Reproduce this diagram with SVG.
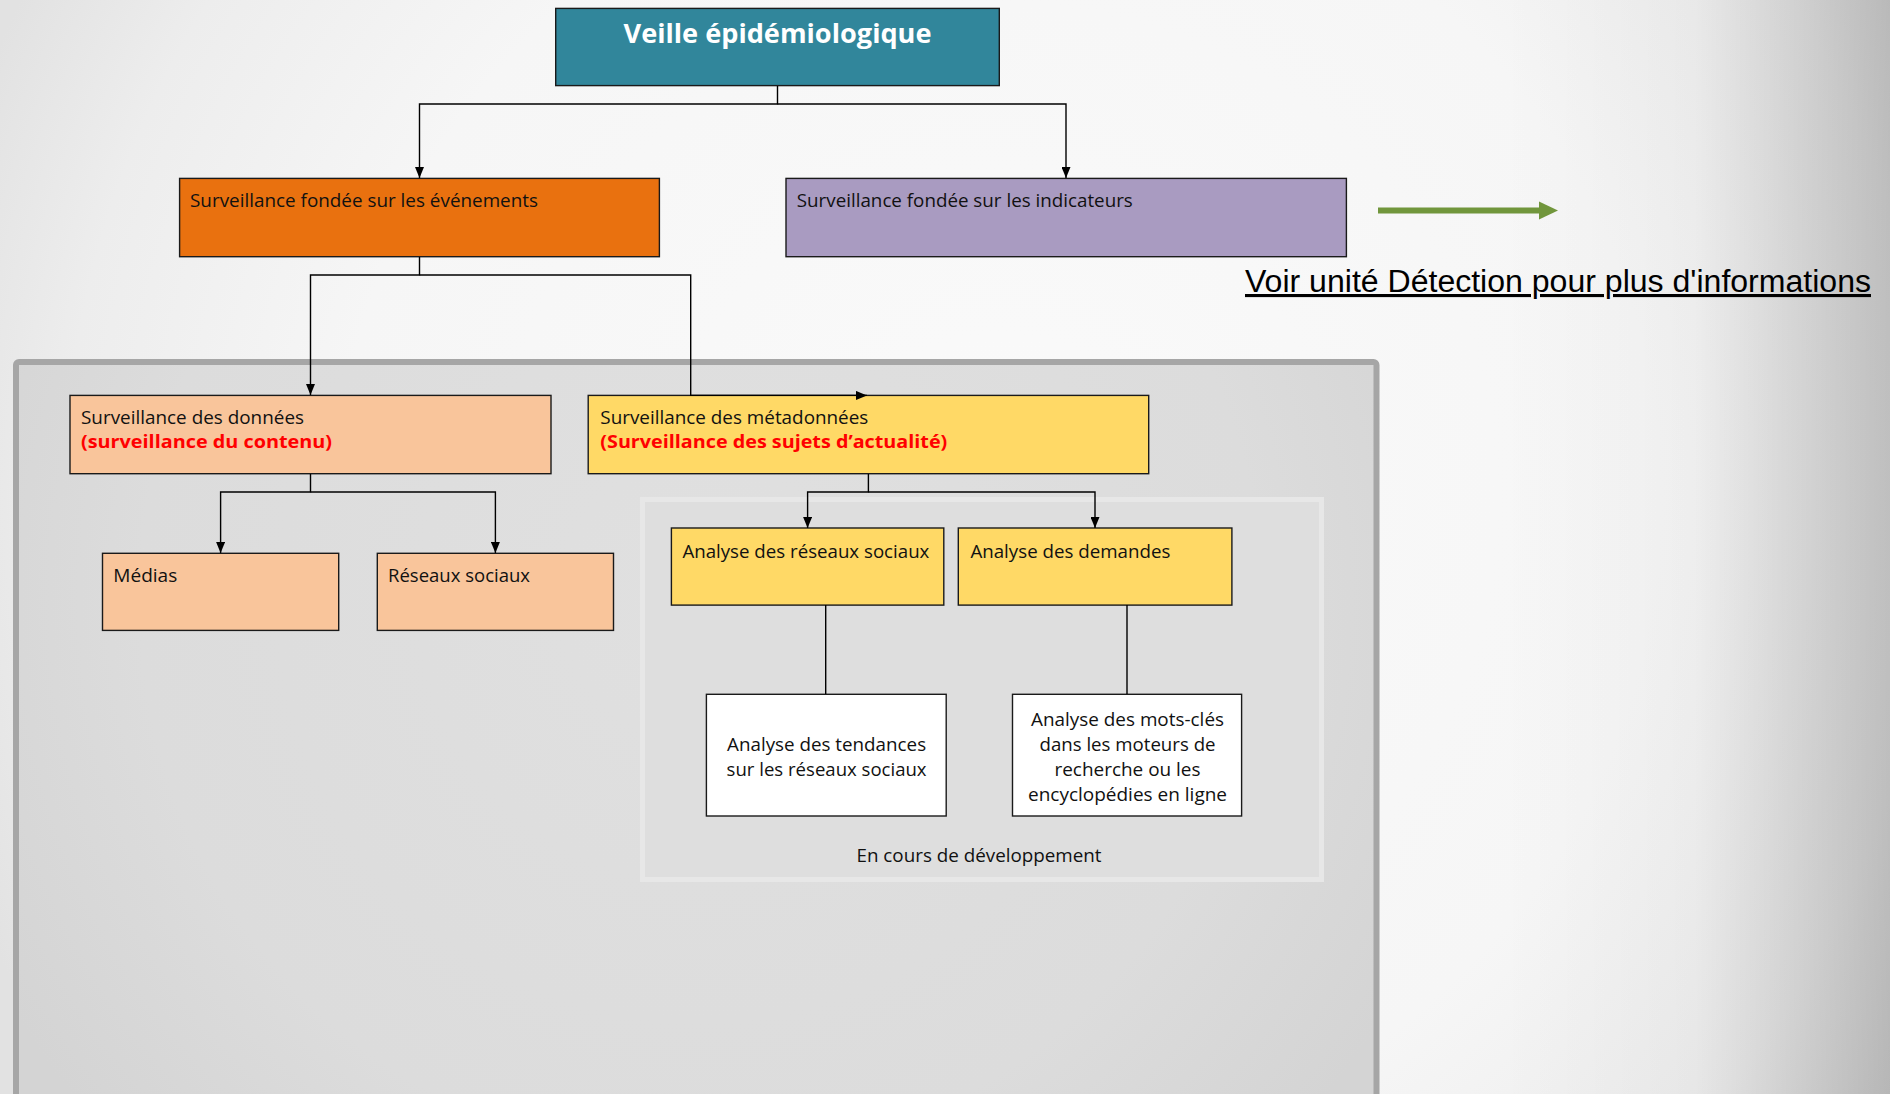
<svg xmlns="http://www.w3.org/2000/svg" width="1890" height="1094" viewBox="0 0 1890 1094">
<defs>
  <radialGradient id="bg" gradientUnits="userSpaceOnUse" cx="1000" cy="500" r="1100">
    <stop offset="0" stop-color="#FAFAFA"/>
    <stop offset="0.6" stop-color="#F6F6F6"/>
    <stop offset="0.85" stop-color="#EDEDED"/>
    <stop offset="1" stop-color="#E2E2E2"/>
  </radialGradient>
  <linearGradient id="rightshade" gradientUnits="userSpaceOnUse" x1="1500" y1="0" x2="1890" y2="0">
    <stop offset="0" stop-color="#000" stop-opacity="0"/>
    <stop offset="0.5" stop-color="#000" stop-opacity="0.03"/>
    <stop offset="1" stop-color="#000" stop-opacity="0.2"/>
  </linearGradient>
  <radialGradient id="panel" gradientUnits="userSpaceOnUse" cx="700" cy="600" r="800">
    <stop offset="0" stop-color="#E0E0E0"/>
    <stop offset="0.7" stop-color="#DCDCDC"/>
    <stop offset="1" stop-color="#D4D4D4"/>
  </radialGradient>
  <marker id="ah" viewBox="0 0 11 9" refX="11" refY="4.5" markerWidth="11" markerHeight="9" markerUnits="userSpaceOnUse" orient="auto">
    <path d="M0,0 L11,4.5 L0,9 z" fill="#000"/>
  </marker>
  <style>
    .box { stroke: #1a1a1a; stroke-width: 1.4; }
    .t { font-family: "Open Sans", "Noto Sans", "DejaVu Sans", sans-serif; font-size: 18px; fill: #111; }
    .red { font-family: "Open Sans", "Noto Sans", "DejaVu Sans", sans-serif; font-size: 18px; font-weight: bold; fill: #FF0000; }
    .c { text-anchor: middle; }
    .conn path { fill: none; stroke: #000; stroke-width: 1.4; }
  </style>
</defs>

<rect x="0" y="0" width="1890" height="1094" fill="url(#bg)"/>
<rect x="0" y="0" width="1890" height="1094" fill="url(#rightshade)"/>

<!-- big gray panel -->
<rect id="panel-main" x="16" y="362" width="1360.5" height="760" rx="3" fill="url(#panel)" stroke="#A6A6A6" stroke-width="6"/>
<!-- in-development panel -->
<rect id="panel-dev" x="642.5" y="499.5" width="679" height="380" fill="#DEDEDE" stroke="#E7E7E7" stroke-width="5"/>

<g id="n-veille">
  <rect class="box" x="555.7" y="8.4" width="443.6" height="77.2" fill="#31869B"/>
  <text x="777.5" y="43" class="c" font-family="'Open Sans', 'Noto Sans', sans-serif" font-size="27" font-weight="bold" fill="#FFFFFF" textLength="308" lengthAdjust="spacingAndGlyphs">Veille épidémiologique</text>
</g>

<g id="n-evenements">
  <rect class="box" x="179.6" y="178.4" width="479.8" height="78.3" fill="#E9710F"/>
  <text x="190" y="207" class="t" textLength="348" lengthAdjust="spacingAndGlyphs">Surveillance fondée sur les événements</text>
</g>

<g id="n-indicateurs">
  <rect class="box" x="786" y="178.4" width="560.4" height="78.3" fill="#A99BC1"/>
  <text x="796.8" y="207" class="t" textLength="336" lengthAdjust="spacingAndGlyphs">Surveillance fondée sur les indicateurs</text>
</g>

<g id="n-voir">
  <line x1="1378" y1="210.5" x2="1542" y2="210.5" stroke="#71963C" stroke-width="6"/>
  <path d="M1539,201.5 L1558,210.5 L1539,219.5 z" fill="#71963C"/>
  <text x="1245" y="292" font-family="'Liberation Sans', Arial, sans-serif" font-size="31" fill="#000" text-decoration="underline" textLength="626" lengthAdjust="spacingAndGlyphs">Voir unité Détection pour plus d'informations</text>
</g>

<g id="n-donnees">
  <rect class="box" x="70" y="395.4" width="481" height="78.3" fill="#F9C59B"/>
  <text x="81" y="424" class="t" textLength="223" lengthAdjust="spacingAndGlyphs">Surveillance des données</text>
  <text x="81" y="448" class="red" textLength="251" lengthAdjust="spacingAndGlyphs">(surveillance du contenu)</text>
</g>

<g id="n-metadonnees">
  <rect class="box" x="588.2" y="395.4" width="560.5" height="78.3" fill="#FFD966"/>
  <text x="600.3" y="424" class="t" textLength="268" lengthAdjust="spacingAndGlyphs">Surveillance des métadonnées</text>
  <text x="600.3" y="448" class="red" textLength="347" lengthAdjust="spacingAndGlyphs">(Surveillance des sujets d’actualité)</text>
</g>

<g id="n-medias">
  <rect class="box" x="102.5" y="553.3" width="236.2" height="77.1" fill="#F9C59B"/>
  <text x="113.3" y="582" class="t" textLength="64" lengthAdjust="spacingAndGlyphs">Médias</text>
</g>

<g id="n-reseaux">
  <rect class="box" x="377.3" y="553.3" width="236.2" height="77.1" fill="#F9C59B"/>
  <text x="388" y="582" class="t" textLength="142" lengthAdjust="spacingAndGlyphs">Réseaux sociaux</text>
</g>

<g id="n-analyse-reseaux">
  <rect class="box" x="671.4" y="528" width="272.4" height="77.1" fill="#FFD966"/>
  <text x="682.4" y="558" class="t" textLength="247" lengthAdjust="spacingAndGlyphs">Analyse des réseaux sociaux</text>
</g>

<g id="n-analyse-demandes">
  <rect class="box" x="958.3" y="528" width="273.6" height="77.1" fill="#FFD966"/>
  <text x="970.4" y="558" class="t" textLength="200" lengthAdjust="spacingAndGlyphs">Analyse des demandes</text>
</g>

<g id="n-tendances">
  <rect class="box" x="706.4" y="694.3" width="239.8" height="121.7" fill="#FFFFFF"/>
  <text x="826.6" y="751" class="t c" textLength="199" lengthAdjust="spacingAndGlyphs">Analyse des tendances</text>
  <text x="826.6" y="776" class="t c" textLength="200" lengthAdjust="spacingAndGlyphs">sur les réseaux sociaux</text>
</g>

<g id="n-motscles">
  <rect class="box" x="1012.5" y="694.3" width="229.1" height="121.7" fill="#FFFFFF"/>
  <text x="1127.5" y="726" class="t c" textLength="193" lengthAdjust="spacingAndGlyphs">Analyse des mots-clés</text>
  <text x="1127.5" y="751" class="t c" textLength="176" lengthAdjust="spacingAndGlyphs">dans les moteurs de</text>
  <text x="1127.5" y="776" class="t c" textLength="146" lengthAdjust="spacingAndGlyphs">recherche ou les</text>
  <text x="1127.5" y="801" class="t c" textLength="199" lengthAdjust="spacingAndGlyphs">encyclopédies en ligne</text>
</g>

<g id="n-dev-label">
  <text x="979" y="862" class="t c" textLength="245" lengthAdjust="spacingAndGlyphs">En cours de développement</text>
</g>

<g class="conn" id="connectors">
  <path d="M777.5,86 V104 H419.5 V178" marker-end="url(#ah)"/>
  <path d="M777.5,104 H1066 V178" marker-end="url(#ah)"/>
  <path d="M419.5,257 V275 H310.5 V395" marker-end="url(#ah)"/>
  <path d="M419.5,275 H690.7 V395.4 H867" marker-end="url(#ah)"/>
  <path d="M310.5,474 V492 H220.6 V553" marker-end="url(#ah)"/>
  <path d="M310.5,492 H495.4 V553" marker-end="url(#ah)"/>
  <path d="M868.4,474 V492 H807.6 V528" marker-end="url(#ah)"/>
  <path d="M868.4,492 H1095 V528" marker-end="url(#ah)"/>
  <path d="M825.7,605 V694"/>
  <path d="M1127,605 V694"/>
</g>
</svg>
